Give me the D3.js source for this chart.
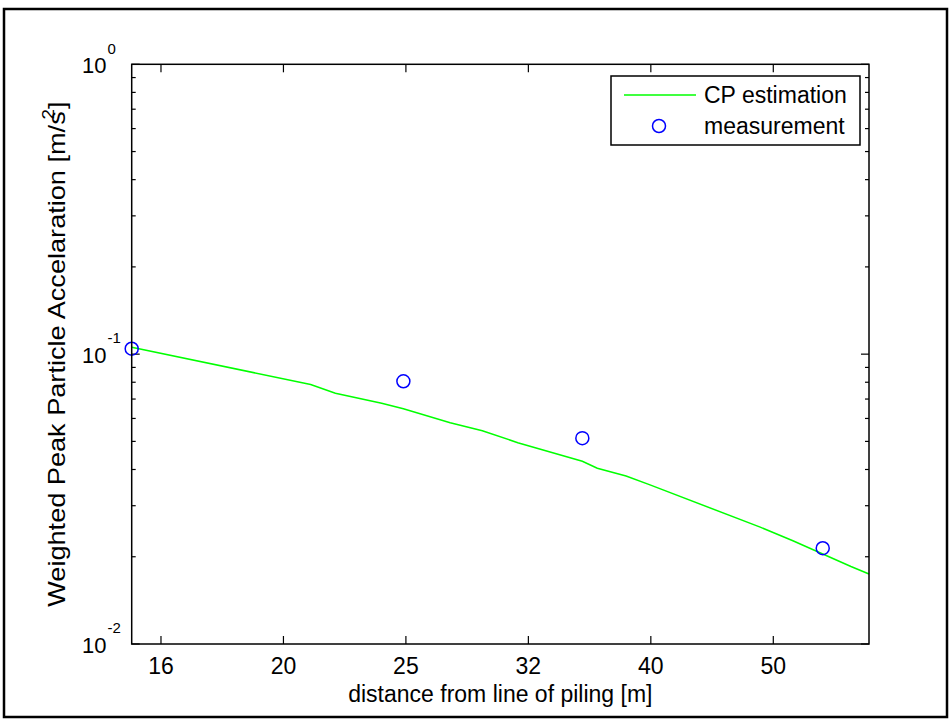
<!DOCTYPE html>
<html>
<head>
<meta charset="utf-8">
<script src="https://cdn.jsdelivr.net/npm/d3@7"></script>
<style>
  html, body { margin: 0; padding: 0; background: #fff; }
  svg { display: block; font-family: Arial, "Liberation Sans", sans-serif; }
</style>
</head>
<body>
<svg id="chart" width="951" height="720"></svg>
<script>
// ---- data ----
const measDistance = [15, 25, 35, 55];
const measValue = [0.1044, 0.0806, 0.0513, 0.0214];

const cpDistance = [15, 21, 22, 24, 25, 27.3, 29, 31, 35, 36, 38, 39.75, 48.9, 52, 58, 60];
const cpValue = [0.1056, 0.0786, 0.0733, 0.0677, 0.0648, 0.0580, 0.0544, 0.0495, 0.0427, 0.0404, 0.0380, 0.0354, 0.0253, 0.0227, 0.0185, 0.01744];

const xTickValues = [1.2, 1.3, 1.4, 1.5, 1.6, 1.7].map(e => Math.pow(10, e));
const xTickLabels = ["16", "20", "25", "32", "40", "50"];
const yTickValues = [1, 0.1, 0.01];
const yTickExponents = ["0", "-1", "-2"];
const yMinorTicks = [2,3,4,5,6,7,8,9].map(m => m * 0.01).concat([2,3,4,5,6,7,8,9].map(m => m * 0.1));

const legendLabels = ["CP estimation", "measurement"];
const xLabel = "distance from line of piling [m]";
const yLabelMain = "Weighted Peak Particle Accelaration [m/s";

// ---- layout ----
const L = 131.7, R = 869, T = 64.3, B = 644;
const svg = d3.select("#chart");

svg.append("rect").attr("x", 4).attr("y", 9).attr("width", 943).attr("height", 708)
  .attr("fill", "none").attr("stroke", "#000").attr("stroke-width", 2.5);

const x = d3.scaleLog().domain([15, 60]).range([L, R]);
const y = d3.scaleLog().domain([0.01, 1]).range([B, T]);

svg.append("rect").attr("x", L).attr("y", T).attr("width", R - L).attr("height", B - T).attr("fill", "#fff");

const FS = 23;

const g = svg.append("g").attr("stroke", "#000").attr("stroke-width", 1.2);
xTickValues.forEach(v => {
  g.append("line").attr("x1", x(v)).attr("x2", x(v)).attr("y1", B).attr("y2", B - 8);
  g.append("line").attr("x1", x(v)).attr("x2", x(v)).attr("y1", T).attr("y2", T + 8);
});
yTickValues.forEach(v => {
  g.append("line").attr("x1", L).attr("x2", L + 8).attr("y1", y(v)).attr("y2", y(v));
  g.append("line").attr("x1", R).attr("x2", R - 8).attr("y1", y(v)).attr("y2", y(v));
});
yMinorTicks.forEach(v => {
  g.append("line").attr("x1", L).attr("x2", L + 4).attr("y1", y(v)).attr("y2", y(v));
  g.append("line").attr("x1", R).attr("x2", R - 4).attr("y1", y(v)).attr("y2", y(v));
});

xTickValues.forEach((v, i) => {
  svg.append("text").attr("x", x(v)).attr("y", B + 30).attr("text-anchor", "middle")
    .attr("font-size", FS).attr("fill", "#000").text(xTickLabels[i]);
});

yTickValues.forEach((v, i) => {
  const t = svg.append("text").attr("x", 82).attr("y", y(v) + 8.7).attr("font-size", 22).attr("fill", "#000");
  t.append("tspan").text("10");
  t.append("tspan").attr("font-size", 15).attr("dy", -19.5).attr("dx", 1).text(yTickExponents[i]);
});

const line = d3.line().x((d, i) => x(cpDistance[i])).y((d, i) => y(cpValue[i]));
svg.append("path").datum(cpValue).attr("d", line).attr("fill", "none")
  .attr("stroke", "#00ff00").attr("stroke-width", 1.5);

svg.selectAll("circle.meas").data(measValue).enter().append("circle")
  .attr("class", "meas")
  .attr("cx", (d, i) => x(measDistance[i])).attr("cy", d => y(d)).attr("r", 6.5)
  .attr("fill", "none").attr("stroke", "#0000ff").attr("stroke-width", 1.5);

svg.append("rect").attr("x", L).attr("y", T).attr("width", R - L).attr("height", B - T)
  .attr("fill", "none").attr("stroke", "#000").attr("stroke-width", 1.5);

svg.append("text").attr("x", (L + R) / 2).attr("y", 701.5).attr("text-anchor", "middle")
  .attr("font-size", FS).attr("fill", "#000").text(xLabel);

const yl = svg.append("text").attr("transform", `translate(65,${(T + B) / 2}) rotate(-90) scale(1.18,1)`)
  .attr("text-anchor", "middle").attr("font-size", FS).attr("fill", "#000");
yl.append("tspan").text(yLabelMain);
yl.append("tspan").attr("font-size", 16).attr("dy", -11).attr("dx", -7).text("2");
yl.append("tspan").attr("dy", 11).text("]");

const lg = svg.append("g");
lg.append("rect").attr("x", 611).attr("y", 76).attr("width", 249).attr("height", 69)
  .attr("fill", "#fff").attr("stroke", "#000").attr("stroke-width", 1.5);
lg.append("line").attr("x1", 624).attr("x2", 696).attr("y1", 95).attr("y2", 95)
  .attr("stroke", "#00ff00").attr("stroke-width", 1.5);
lg.append("circle").attr("cx", 659).attr("cy", 126).attr("r", 6.5)
  .attr("fill", "none").attr("stroke", "#0000ff").attr("stroke-width", 1.5);
lg.append("text").attr("x", 704).attr("y", 103).attr("font-size", FS).attr("fill", "#000").text(legendLabels[0]);
lg.append("text").attr("x", 704).attr("y", 134).attr("font-size", FS).attr("fill", "#000").text(legendLabels[1]);
</script>
</body>
</html>
